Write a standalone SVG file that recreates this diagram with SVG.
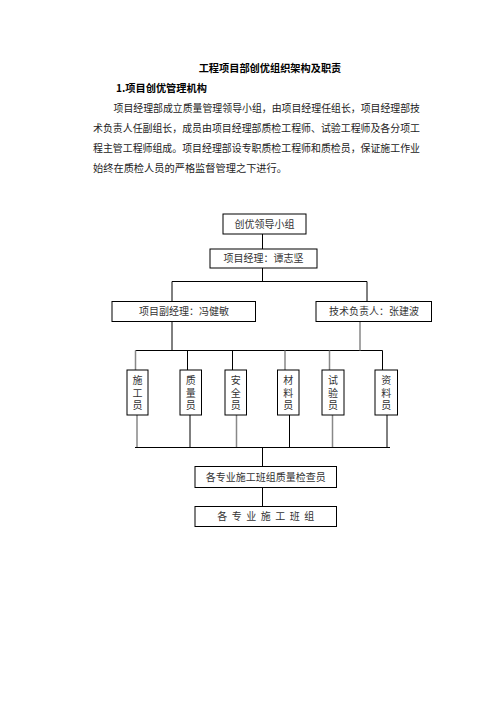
<svg xmlns="http://www.w3.org/2000/svg" width="496" height="702" viewBox="0 0 496 702">
<style>
.t{font-family:"Noto Sans CJK SC","Noto Sans",sans-serif;fill:#222}
.b{font-weight:bold;fill:#000}
.n{font-family:"Noto Sans CJK SC","Noto Sans",sans-serif;font-size:10px;fill:#333;text-anchor:middle}
.v{font-family:"Noto Sans CJK SC","Noto Sans",sans-serif;font-size:10px;fill:#333;writing-mode:vertical-rl;letter-spacing:2.6px}
.box{fill:#fff;stroke:#000;stroke-width:1}
.l{stroke:#000;stroke-width:1;fill:none}
.g{stroke:#888;stroke-width:1.5;fill:none}
</style>
<rect width="496" height="702" fill="#fff"/>
<text class="t b" x="270" y="72" font-size="10.2" text-anchor="middle">工程项目部创优组织架构及职责</text>
<text class="t b" x="116" y="92" font-size="10.2">1.项目创优管理机构</text>
<g class="t" font-size="10.2">
<text x="113.5" y="112" textLength="306.5" lengthAdjust="spacingAndGlyphs">项目经理部成立质量管理领导小组，由项目经理任组长，项目经理部技</text>
<text x="93" y="132" textLength="327" lengthAdjust="spacingAndGlyphs">术负责人任副组长，成员由项目经理部质检工程师、试验工程师及各分项工</text>
<text x="93" y="152" textLength="327" lengthAdjust="spacingAndGlyphs">程主管工程师组成。项目经理部设专职质检工程师和质检员，保证施工作业</text>
<text x="93" y="171.5" textLength="194" lengthAdjust="spacingAndGlyphs">始终在质检人员的严格监督管理之下进行。</text>
</g>
<g id="connectors">
<path class="l" d="M262.5 234V249M262.5 268V281.5M172 281.5H367M172 281.5V301.5M367 281.5V301.5M172 321.5V350.5M135.5 350.5H382.5M187.5 350.5V370M232.5 350.5V370M382.5 350.5V370"/>
<path class="g" d="M360 321.5V350.5M135.5 350.5V370M285 350.5V370M329.5 350.5V370"/>
<path class="g" d="M137 415V447.5M236.5 415V447.5M332.5 415V447.5"/>
<path class="l" d="M190 415V447.5M289.5 415V447.5M387 415V447.5M135 447.5H390M262.5 447.5V466.5M262.5 487.5V506.5"/>
</g>
<g id="n1"><rect class="box" x="223" y="214" width="83" height="20"/><text class="n" x="264.5" y="227.5">创优领导小组</text></g>
<g id="n2"><rect class="box" x="210" y="249" width="107" height="19"/><text class="n" x="263.5" y="262">项目经理：谭志坚</text></g>
<g id="n3"><rect class="box" x="112" y="301.5" width="143.5" height="20"/><text class="n" x="184" y="315">项目副经理：冯健敏</text></g>
<g id="n4"><rect class="box" x="316" y="301.5" width="115.5" height="20"/><text class="n" x="374" y="315">技术负责人：张建波</text></g>
<g id="n5"><rect class="box" x="127" y="370" width="21" height="45"/><text class="v" x="137.5" y="375.5">施工员</text></g>
<g id="n6"><rect class="box" x="180" y="370" width="21.5" height="45"/><text class="v" x="190.7" y="375.5">质量员</text></g>
<g id="n7"><rect class="box" x="225" y="370" width="21.5" height="45"/><text class="v" x="235.7" y="375.5">安全员</text></g>
<g id="n8"><rect class="box" x="277.5" y="370" width="21.5" height="45"/><text class="v" x="288.2" y="375.5">材料员</text></g>
<g id="n9"><rect class="box" x="322" y="370" width="22" height="45"/><text class="v" x="333" y="375.5">试验员</text></g>
<g id="n10"><rect class="box" x="375" y="370" width="22.5" height="45"/><text class="v" x="386.2" y="375.5">资料员</text></g>
<g id="n11"><rect class="box" x="195" y="466.5" width="141.5" height="21"/><text class="n" x="265.7" y="480.5">各专业施工班组质量检查员</text></g>
<g id="n12"><rect class="box" x="195" y="506.5" width="141.5" height="20"/><text class="n" x="265.7" y="520" textLength="97" lengthAdjust="spacing">各专业施工班组</text></g>
</svg>
